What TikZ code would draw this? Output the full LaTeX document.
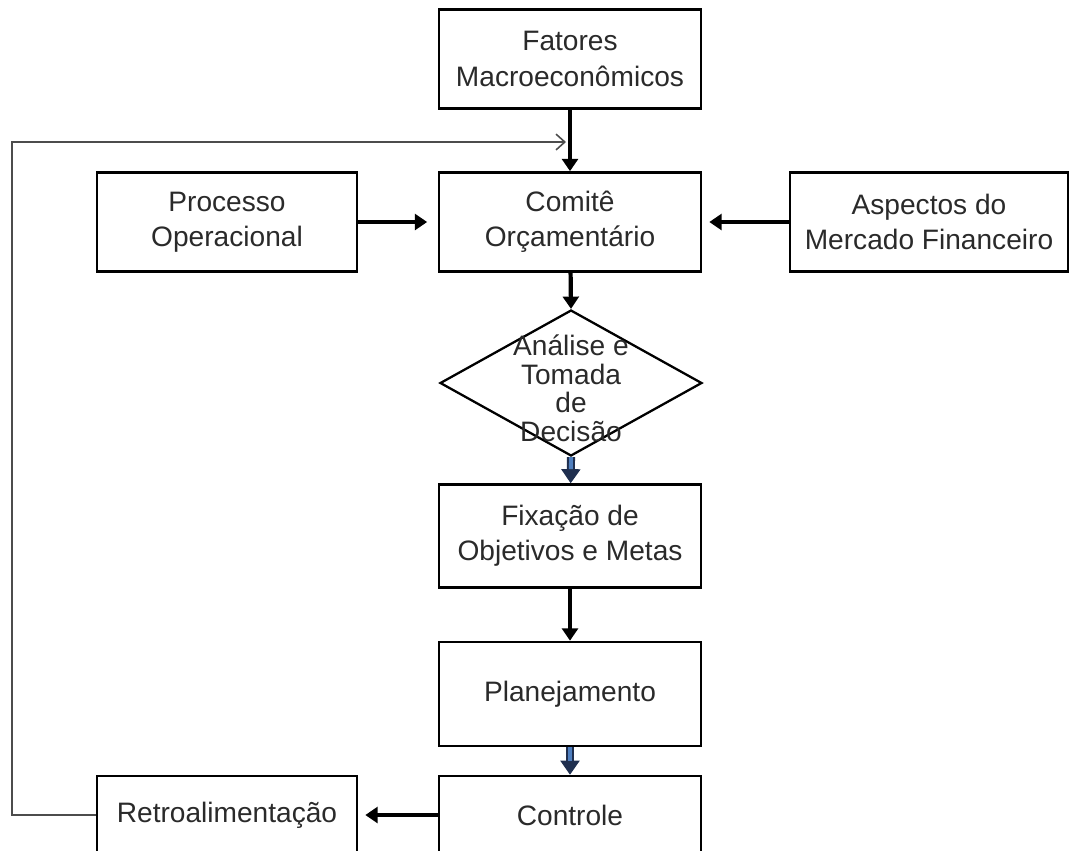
\documentclass[tikz,border=0pt]{standalone}
\usepackage{fontspec}
\setmainfont{Liberation Sans}
\usetikzlibrary{arrows.meta,shapes.geometric}
\definecolor{txtc}{HTML}{2A2A2A}
\definecolor{navyc}{HTML}{1F2F4F}
\definecolor{bluec}{HTML}{4F7FBF}
\tikzset{
  box/.style={draw=black, line width=1.5pt, minimum width=5.24cm, minimum height=1.98cm,
    align=center, text=txtc, font=\fontsize{16}{20}\selectfont, inner sep=2pt},
  decision/.style={draw=black, line width=1.3pt, diamond, minimum width=5.24cm,
    minimum height=2.92cm, inner sep=0pt},
  flow/.style={line width=2.4pt, -{Triangle[length=7pt,width=9pt]}},
  blueflow/.style={line width=4.6pt, draw=navyc,
    -{Triangle[length=8pt,width=11pt,line width=0.6pt,fill=navyc]},
    postaction={draw=bluec, line width=2.2pt, -, shorten >=8pt}},
  feedback/.style={draw=black!70, line width=0.9pt, -{Straight Barb[length=5pt,width=9pt]}}
}
\begin{document}
\begin{tikzpicture}[x=0.02cm, y=-0.02cm]
  \useasboundingbox (0,0) rectangle (1075,850);
  \node[box] (fat) at (570,59) {Fatores\\Macroeconômicos};
  \node[box] (com) at (570,222) {Comitê\\Orçamentário};
  \node[box, minimum width=5.2cm] (pro) at (227,222) {Processo\\Operacional};
  \node[box, minimum width=5.56cm] (asp) at (929,222) {Aspectos do\\Mercado Financeiro};
  \node[decision] (dec) at (571,383) {};
  \node[text=txtc, align=center, font=\fontsize{16}{16.5}\selectfont, inner sep=0pt]
    (dect) at ([yshift=-3pt]dec.center) {Análise e\\Tomada\\de\\Decisão};
  \node[box, minimum height=2.06cm] (fix) at (570,536) {Fixação de\\Objetivos e Metas};
  \node[box, minimum height=2.08cm] (pla) at (570,694) {Planejamento};
  \node[box, minimum height=1.56cm] (con) at (570,815) {Controle};
  \node[box, minimum width=5.2cm, minimum height=1.56cm] (ret) at (227,815) {Retroalimentação};
  \coordinate (fcorner) at (12,142);
  \coordinate (fend) at (566,142);
  \begin{scope}
    \draw[flow] (fat) -- (com);
    \draw[flow] (pro) -- ([xshift=-6pt]com.west);
    \draw[flow] (asp) -- ([xshift=4pt]com.east);
    \draw[flow] (com) -- (dec.north);
    \draw[blueflow] (dec.south) -- (fix);
    \draw[flow] (fix) -- (pla);
    \draw[blueflow] (pla) -- (con);
    \draw[flow] (con) -- ([xshift=4pt]ret.east);
    \draw[feedback] (ret.west) -| (fcorner) -- (fend);
  \end{scope}
\end{tikzpicture}
\end{document}
